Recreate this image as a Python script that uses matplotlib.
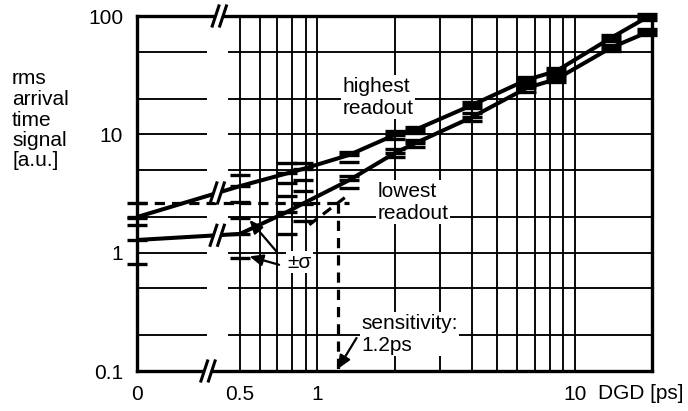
import numpy as np
import matplotlib
matplotlib.use("Agg")
import matplotlib.pyplot as plt
from matplotlib.lines import Line2D
from matplotlib.transforms import ScaledTranslation

plt.rcParams['font.family'] = ['Liberation Sans', 'DejaVu Sans']

# ---- data -------------------------------------------------------------
dgd = [0, 0.5, 0.76, 0.88, 1.33, 2.0, 2.4, 4.0, 6.5, 8.5, 13.8, 19.2]

high_val = [2.0, 3.65, 4.67, 5.1, 6.7, 9.9, 10.9, 17.7, 28.8, 34.3, 65, 98]
high_hi = [2.62, 4.53, 5.7, 5.75, 7.1, 10.6, 11.5, 18.8, 30.5, 36.5, 69, 104]
high_lo = [1.72, 2.68, 3.87, 4.1, 5.85, 9.2, 10.3, 16.6, 27.2, 32.3, 61, 93]

low_val = [1.28, 1.44, 2.2, 2.6, 4.1, 6.95, 8.4, 14.0, 24.6, 29.3, 53.7, 73]
low_hi = [1.96, 1.97, 3.0, 3.3, 4.45, 7.5, 8.95, 15.0, 26.3, 31.2, 57, 77]
low_lo = [0.80, 0.90, 1.45, 1.85, 3.55, 6.4, 7.8, 13.0, 23.0, 27.6, 50.5, 69.5]

threshold = 2.62          # highest readout + sigma at DGD = 0
sensitivity = 1.2         # ps
slope_x = [0.93, 1.3]     # lowest readout - sigma trend
slope_y = [1.72, 3.0]

x_ticks = [0, 0.5, 1, 10]
x_ticklabels = ['0', '0.5', '1', '10']
y_ticks = [0.1, 1, 10, 100]
y_ticklabels = ['0.1', '1', '10', '100']
x_grid = [0.5, 0.6, 0.7, 0.8, 0.9, 1, 2, 3, 4, 5, 6, 7, 8, 9, 10]
y_grid = [0.2, 0.5, 1, 2, 5, 10, 20, 50]

# ---- broken x axis: linear stub for DGD=0, log from 0.5 ps ------------
X_JOIN = 0.5
STUB = 0.40  # width of the stub in decades


def fwd(x):
    x = np.asarray(x, float)
    lg = np.log10(np.where(x > 0, x, 1.0))
    lin = np.log10(X_JOIN) - (X_JOIN - x) / X_JOIN * STUB
    return np.where(x >= X_JOIN, lg, lin)


def inv(t):
    t = np.asarray(t, float)
    lin = X_JOIN - (np.log10(X_JOIN) - t) / STUB * X_JOIN
    return np.where(t >= np.log10(X_JOIN), 10.0 ** np.minimum(t, 10), lin)


W, H = 688, 411
fig = plt.figure(figsize=(W / 100, H / 100), dpi=100)
ax = fig.add_axes([137 / W, (H - 371) / H, (652 - 137) / W, (371 - 16) / H])
ax.set_xscale('function', functions=(fwd, inv))
ax.set_yscale('log')
ax.set_xlim(0, 20)
ax.set_ylim(0.1, 100)

FS = 15
ax.set_xticks(x_ticks)
ax.set_xticklabels(x_ticklabels, fontsize=FS)
ax.set_yticks(y_ticks)
ax.set_yticklabels(y_ticklabels, fontsize=FS)
ax.minorticks_off()
ax.tick_params(axis='both', length=0)
ax.tick_params(axis='x', pad=10)
ax.tick_params(axis='y', pad=10)
for s in ax.spines.values():
    s.set_linewidth(2.4)

GRID_LW = 1.35
for xv in x_grid:
    ax.axvline(xv, color='black', lw=GRID_LW, zorder=1)
for yv in y_grid:
    ax.hlines(yv, 0, 0.34, color='black', lw=GRID_LW, zorder=1)
    ax.hlines(yv, 0.44, 20, color='black', lw=GRID_LW, zorder=1)

# dashed sensitivity construction
dash = dict(color='black', lw=2.3, ls=(0, (3.2, 2.2)), zorder=3)
ax.plot([0, 1.33], [threshold, threshold], **dash)
ax.plot(slope_x, slope_y, **dash)
ax.plot([sensitivity, sensitivity], [threshold, 0.1], **dash)

# readout curves with +/- sigma bars
for val, hi, lo in [(high_val, high_hi, high_lo), (low_val, low_hi, low_lo)]:
    ax.plot(dgd, val, color='black', lw=2.9, zorder=4, solid_joinstyle='miter')
    for arr in (val, hi, lo):
        ax.plot(dgd, arr, ls='none', marker='_', ms=14.5, mew=2.4,
                color='black', zorder=4, clip_on=False)


def slash_pair(x, y, dx=3.8, dy=11.5, gap=7.5):
    """Draw a '//' break symbol centred on data point (x, y); sizes in px."""
    t = fig.dpi_scale_trans + ScaledTranslation(x, y, ax.transData)
    k = 1 / fig.dpi
    ax.add_artist(Line2D([-dx * 0.8 * k, dx * 0.8 * k], [-dy * 0.8 * k, dy * 0.8 * k],
                         transform=t, color='white', lw=gap * 0.72 * 0.95,
                         solid_capstyle='butt', zorder=8, clip_on=False))
    for off in (-gap / 2, gap / 2):
        ax.add_artist(Line2D([(off - dx) * k, (off + dx) * k], [-dy * k, dy * k],
                             transform=t, color='black', lw=2.2,
                             solid_capstyle='butt', zorder=9, clip_on=False))


# break symbols on both curves between DGD = 0 and 0.5 (straight in display)
XB = 0.39
for val in (high_val, low_val):
    f = XB / dgd[1]
    yb = 10 ** (np.log10(val[0]) + f * (np.log10(val[1]) - np.log10(val[0])))
    slash_pair(XB, yb)
slash_pair(0.40, 100)
slash_pair(0.345, 0.1)

# labels
box = dict(facecolor='white', edgecolor='none', pad=1.0)
ax.text(1.25, 20.5, 'highest\nreadout', fontsize=FS, ha='left', va='center',
        linespacing=1.2, bbox=box, zorder=5)
ax.text(1.71, 2.68, 'lowest\nreadout', fontsize=FS, ha='left', va='center',
        linespacing=1.2, bbox=box, zorder=5)
ax.text(1.48, 0.205, 'sensitivity:\n1.2ps', fontsize=FS, ha='left', va='center',
        linespacing=1.2, bbox=box, zorder=5)
ax.text(0.85, 0.83, '±σ', fontsize=FS, ha='center', va='center',
        bbox=box, zorder=5)

arrow = dict(arrowstyle='-|>,head_length=0.8,head_width=0.35', color='black',
             lw=1.6, shrinkA=0, shrinkB=0)
ax.annotate('', xy=(0.545, 1.89), xytext=(0.70, 1.0), arrowprops=arrow, zorder=6)
ax.annotate('', xy=(0.545, 0.93), xytext=(0.71, 0.79), arrowprops=arrow, zorder=6)
ax.annotate('', xy=(sensitivity, 0.104), xytext=(1.42, 0.19), arrowprops=arrow,
            zorder=6)

fig.text(598 / W, (H - 393) / H, 'DGD [ps]', fontsize=FS, ha='left', va='center')
fig.text(12 / W, (H - 120) / H, 'rms\narrival\ntime\nsignal\n[a.u.]',
         fontsize=FS, ha='left', va='center', linespacing=1.1)

fig.savefig('out.png', dpi=100)
